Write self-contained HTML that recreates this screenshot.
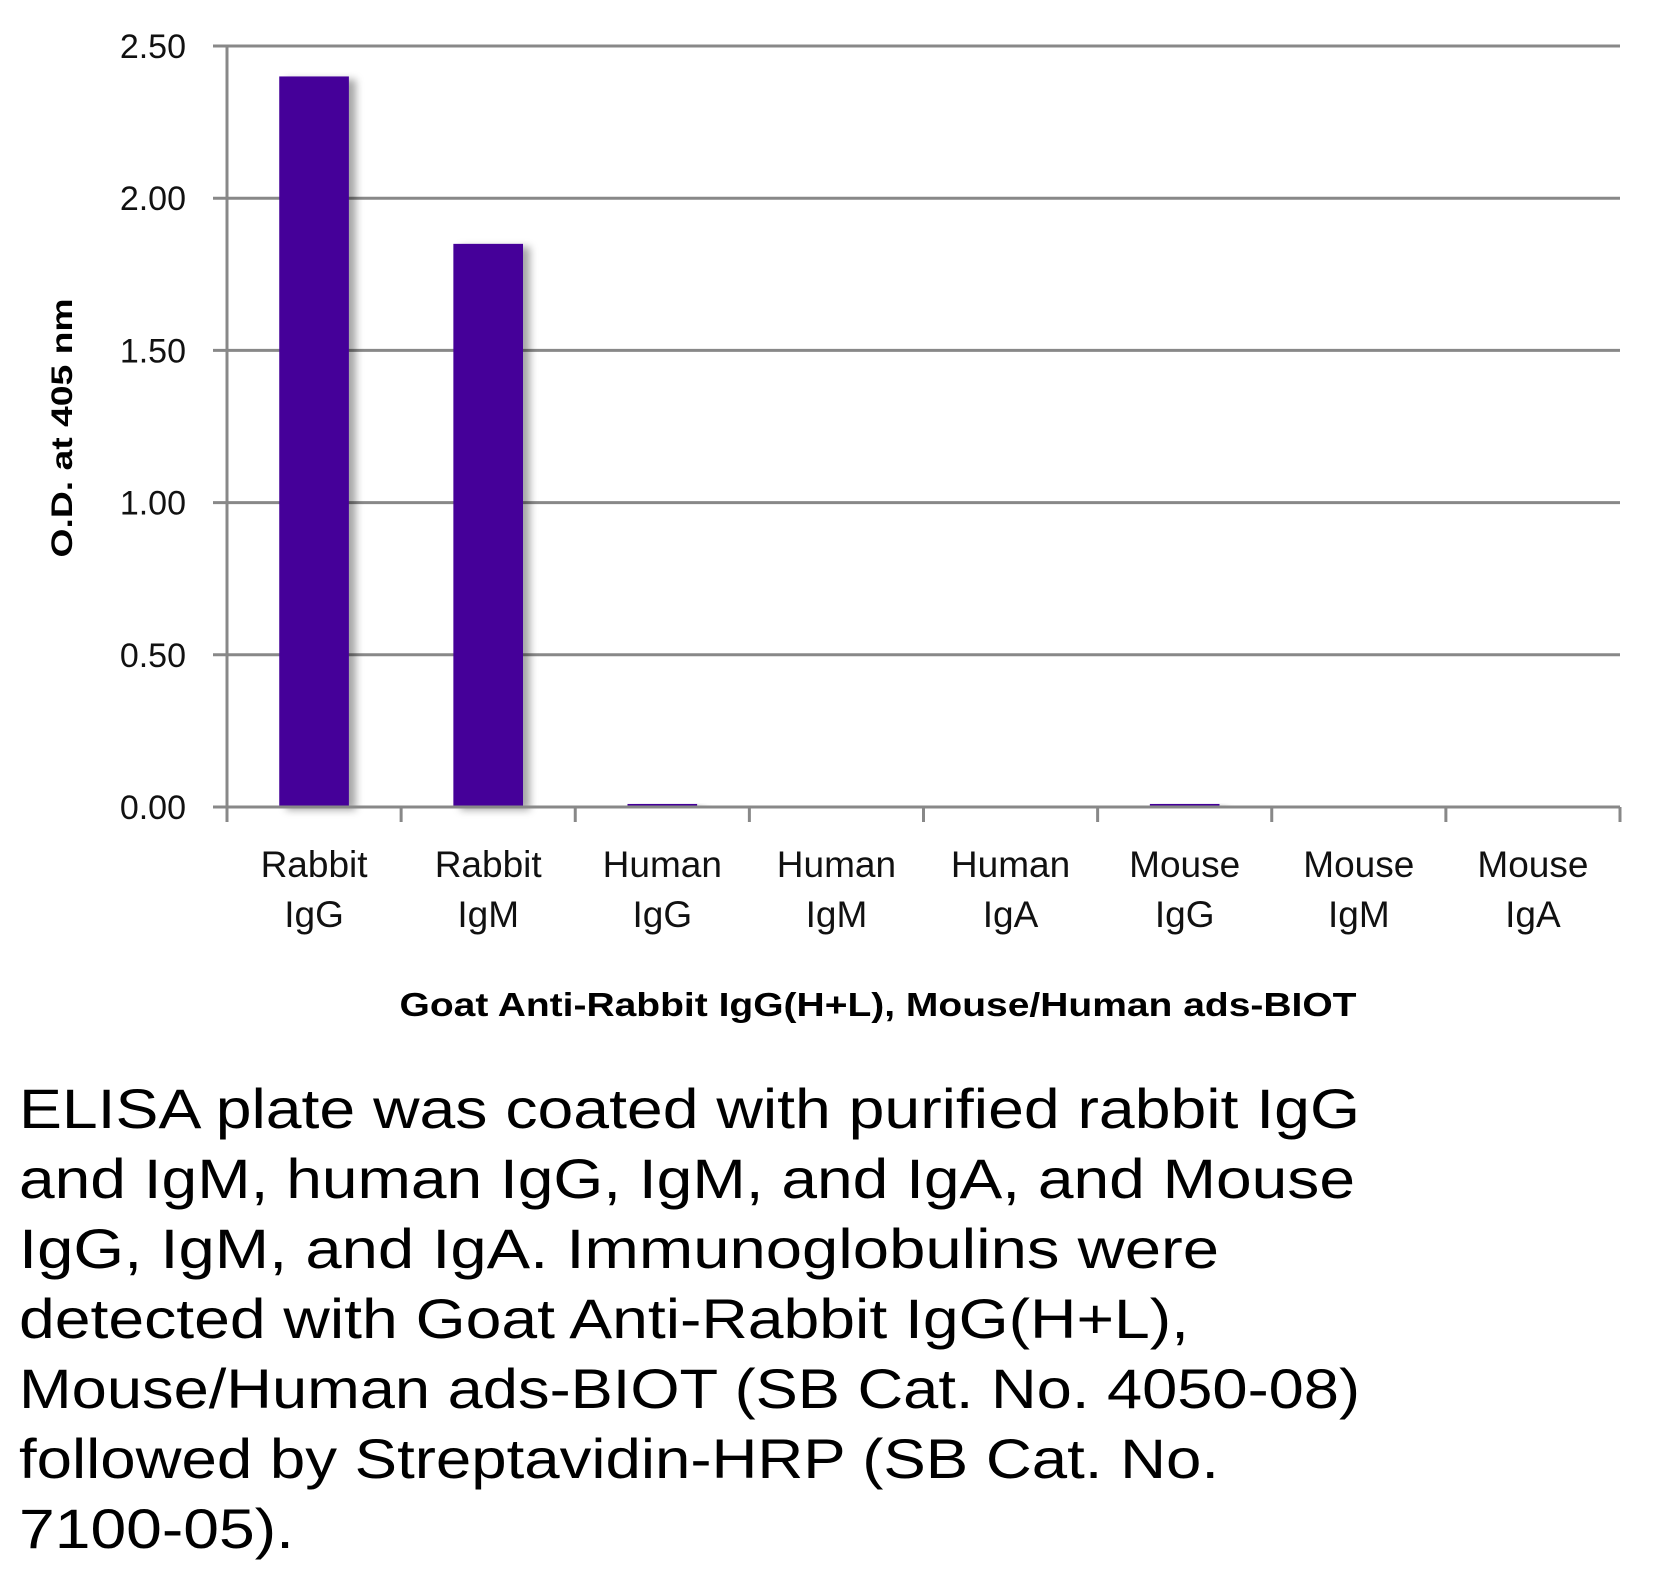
<!DOCTYPE html>
<html><head><meta charset="utf-8"><style>
html,body{margin:0;padding:0;background:#fff;}
svg{display:block;font-family:"Liberation Sans",sans-serif;}
</style></head><body>
<svg id="chart" width="1666" height="1580" viewBox="0 0 1666 1580" xmlns="http://www.w3.org/2000/svg">
<defs>
<filter id="sh" x="-20%" y="-5%" width="160%" height="110%">
<feDropShadow dx="7" dy="3" stdDeviation="4" flood-color="#000" flood-opacity="0.35"/>
</filter>
</defs>
<g id="grid"></g>
<g id="bars"></g>
<g id="axes"></g>
<text transform="translate(72,428) rotate(-90)" text-anchor="middle" font-size="30" font-weight="bold" textLength="259" lengthAdjust="spacingAndGlyphs">O.D. at 405 nm</text>
<text x="878" y="1016" text-anchor="middle" font-size="33" font-weight="bold" textLength="957" lengthAdjust="spacingAndGlyphs">Goat Anti-Rabbit IgG(H+L), Mouse/Human ads-BIOT</text>
<g font-size="56">
<text x="19" y="1128" textLength="1341" lengthAdjust="spacingAndGlyphs">ELISA plate was coated with purified rabbit IgG</text>
<text x="19" y="1198" textLength="1336" lengthAdjust="spacingAndGlyphs">and IgM, human IgG, IgM, and IgA, and Mouse</text>
<text x="19" y="1268" textLength="1200" lengthAdjust="spacingAndGlyphs">IgG, IgM, and IgA.  Immunoglobulins were</text>
<text x="19" y="1338" textLength="1170" lengthAdjust="spacingAndGlyphs">detected with Goat Anti-Rabbit IgG(H+L),</text>
<text x="19" y="1408" textLength="1341" lengthAdjust="spacingAndGlyphs">Mouse/Human ads-BIOT (SB Cat. No. 4050-08)</text>
<text x="19" y="1478" textLength="1200" lengthAdjust="spacingAndGlyphs">followed by Streptavidin-HRP (SB Cat. No.</text>
<text x="19" y="1548" textLength="275" lengthAdjust="spacingAndGlyphs">7100-05).</text>
</g>
</svg>
<script>
const categories1 = ["Rabbit","Rabbit","Human","Human","Human","Mouse","Mouse","Mouse"];
const categories2 = ["IgG","IgM","IgG","IgM","IgA","IgG","IgM","IgA"];
const values = [2.40, 1.85, 0.01, 0.0, 0.0, 0.01, 0.0, 0.0];
const yTicks = [0, 0.5, 1.0, 1.5, 2.0, 2.5];
const yTickLabels = ["0.00","0.50","1.00","1.50","2.00","2.50"];

const NS = "http://www.w3.org/2000/svg";
const X0 = 227, X1 = 1620, Y0 = 807, Y1 = 46, YMAX = 2.5;
const bw = (X1 - X0) / categories1.length;
function yScale(v){ return Y0 - (v / YMAX) * (Y0 - Y1); }
function xScale(i){ return X0 + i * bw; }
function mk(tag, attrs, parent){
  const el = document.createElementNS(NS, tag);
  for (const k in attrs) el.setAttribute(k, attrs[k]);
  parent.appendChild(el);
  return el;
}
const grid = document.getElementById('grid');
const bars = document.getElementById('bars');
const axes = document.getElementById('axes');

yTicks.forEach((t, i) => {
  const y = yScale(t);
  if (t > 0) {
    const g = mk('line', {x1: 213, x2: X1, y1: y, y2: y, stroke: '#888', 'stroke-width': 3}, grid);
    
    
  } else {
    const g = mk('line', {x1: 213, x2: X0, y1: y, y2: y, stroke: '#888', 'stroke-width': 3}, axes);
    
    
  }
  const tx = mk('text', {x: 186, y: y + 12, 'text-anchor': 'end', 'font-size': 34, fill: '#111'}, axes);
  tx.textContent = yTickLabels[i];
  
  
});

values.forEach((v, i) => {
  const cx = xScale(i) + bw / 2;
  const w = bw * 0.4;
  const top = yScale(v);
  if (v > 0) {
    const r = mk('rect', {x: cx - w / 2, y: top, width: w, height: Y0 - top, fill: '#440099', filter: 'url(#sh)'}, bars);
    
    
  }
  const t1 = mk('text', {x: cx, y: 877, 'text-anchor': 'middle', 'font-size': 37, fill: '#111'}, axes);
  t1.textContent = categories1[i];
  
  
  const t2 = mk('text', {x: cx, y: 927, 'text-anchor': 'middle', 'font-size': 37, fill: '#111'}, axes);
  t2.textContent = categories2[i];
  
  
});

for (let i = 0; i <= categories1.length; i++) {
  const x = xScale(i);
  const tk = mk('line', {x1: x, x2: x, y1: Y0, y2: 822, stroke: '#888', 'stroke-width': 3}, axes);
  
  
}
const xa = mk('line', {x1: X0, x2: X1, y1: Y0, y2: Y0, stroke: '#888', 'stroke-width': 3}, axes);


const ya = mk('line', {x1: X0, x2: X0, y1: Y1, y2: Y0, stroke: '#888', 'stroke-width': 3}, axes);


</script>
</body></html>
